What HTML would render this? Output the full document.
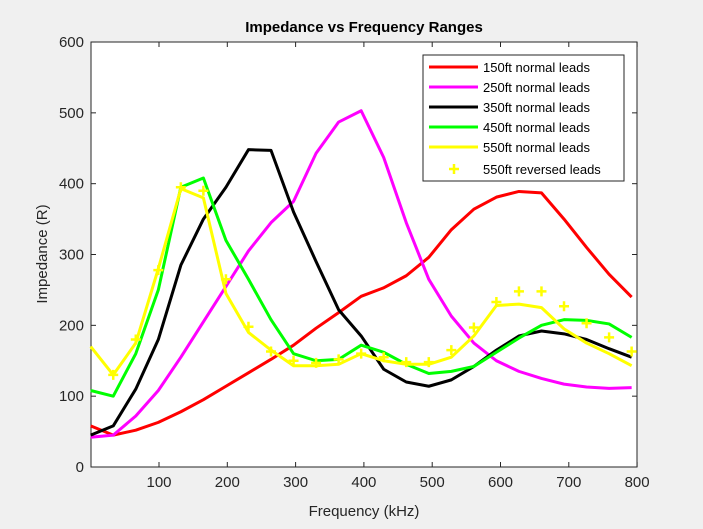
<!DOCTYPE html>
<html><head><style>
body{margin:0;background:#f0f0f0;width:703px;height:524px;overflow:hidden;font-family:"Liberation Sans",Arial,sans-serif}
</style></head><body>
<svg id="s" width="703" height="524" xmlns="http://www.w3.org/2000/svg" font-family="Liberation Sans, Arial, sans-serif">
<rect x="0" y="0" width="703" height="524" fill="#f0f0f0"/>
<rect x="91" y="42" width="546" height="425" fill="#fff" stroke="#262626" stroke-width="1"/>
<text x="364" y="32" text-anchor="middle" font-size="15" font-weight="bold" fill="#000">Impedance vs Frequency Ranges</text>
<text x="364" y="516" text-anchor="middle" font-size="15" fill="#262626">Frequency (kHz)</text>
<text transform="translate(47,254) rotate(-90)" text-anchor="middle" font-size="15" fill="#262626">Impedance (R)</text>
<g id="ticks" font-size="15" fill="#262626"></g>
<g id="lines"></g>
<rect x="423" y="55" width="201" height="126" fill="#fff" stroke="#262626" stroke-width="1"/>
<g id="leg" font-size="13" fill="#000"></g>
</svg>
<script>
const X=x=>90.7+0.683*x, Y=y=>467-0.7083*y;
const xs=[];for(let i=0;i<25;i++)xs.push(i*33);
const S=[
["#ff0000",[58,45,52,63,78,95,114,133,152,172,196,218,241,253,270,296,335,364,381,389,387,350,310,272,240]],
["#ff00ff",[42,45,72,108,155,205,255,305,345,375,443,487,503,437,345,265,213,175,150,135,125,117,113,111,112]],
["#000000",[45,58,110,180,285,350,395,448,447,360,290,222,185,138,120,114,123,142,165,185,192,188,180,167,155]],
["#00ff00",[108,100,160,250,395,408,320,265,208,160,150,152,172,162,145,132,135,142,162,182,200,208,207,202,183]],
["#ffff00",[170,130,175,280,393,380,245,190,165,143,143,145,160,150,145,145,155,185,228,230,225,195,175,160,143]]];
const rev=[null,130,180,278,395,390,265,198,163,150,147,152,160,155,148,148,165,197,233,248,248,227,203,183,163];
const ns="http://www.w3.org/2000/svg";
const L=document.getElementById("lines"),T=document.getElementById("ticks"),G=document.getElementById("leg");
function el(p,t,a){const e=document.createElementNS(ns,t);for(const k in a)e.setAttribute(k,a[k]);p.appendChild(e);return e;}
for(let v=0;v<=600;v+=100){const y=Y(v);el(T,"line",{x1:91,x2:96,y1:y,y2:y,stroke:"#262626"});el(T,"line",{x1:632,x2:637,y1:y,y2:y,stroke:"#262626"});el(T,"text",{x:84,y:y+5,"text-anchor":"end"}).textContent=v;}
for(let v=100;v<=800;v+=100){const x=X(v);el(T,"line",{x1:x,x2:x,y1:467,y2:462,stroke:"#262626"});el(T,"line",{x1:x,x2:x,y1:42,y2:47,stroke:"#262626"});el(T,"text",{x:x,y:487,"text-anchor":"middle"}).textContent=v;}
S.forEach(([c,d])=>{el(L,"polyline",{points:d.map((v,i)=>X(xs[i])+","+Y(v)).join(" "),fill:"none",stroke:c,"stroke-width":3,"stroke-linejoin":"round"});});
let p="";rev.forEach((v,i)=>{if(v==null)return;const x=X(xs[i]),y=Y(v);p+=`M${x-5},${y}H${x+5}M${x},${y-5}V${y+5}`;});
el(L,"path",{d:p,stroke:"#ffff00","stroke-width":2.5,fill:"none"});
const names=["150ft normal leads","250ft normal leads","350ft normal leads","450ft normal leads","550ft normal leads"];
names.forEach((n,i)=>{const y=67+20*i;el(G,"line",{x1:429,x2:478,y1:y,y2:y,stroke:S[i][0],"stroke-width":3});el(G,"text",{x:483,y:y+5}).textContent=n;});
el(G,"path",{d:"M449,169H459M454,164V174",stroke:"#ffff00","stroke-width":2.5});
el(G,"text",{x:483,y:174}).textContent="550ft reversed leads";
</script>
</body></html>
